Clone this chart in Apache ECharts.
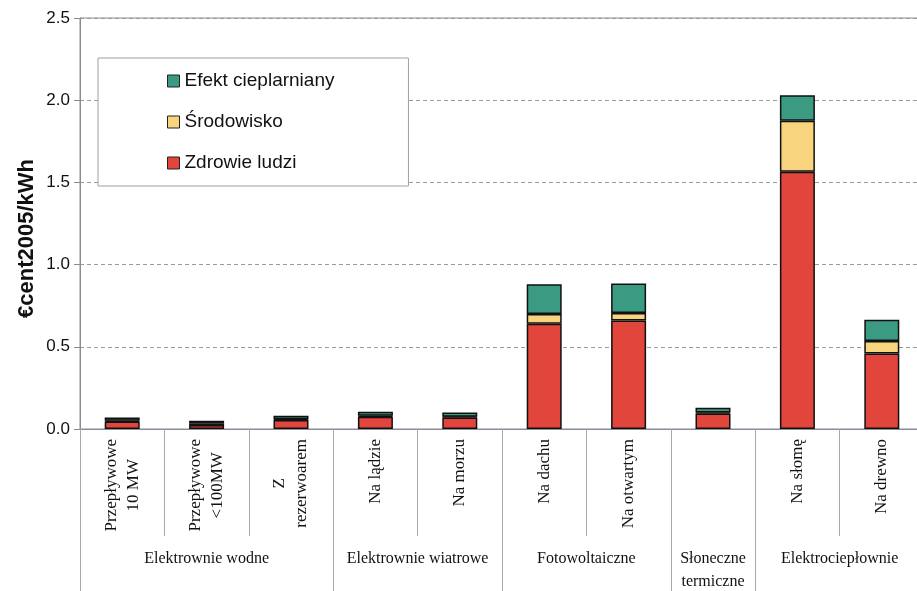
<!DOCTYPE html>
<html>
<head>
<meta charset="utf-8">
<script src="https://cdn.jsdelivr.net/npm/echarts@6/dist/echarts.min.js"></script>
<style>
  html, body { margin: 0; padding: 0; background: #fff; }
  #chart { width: 917px; height: 591px; }
</style>
</head>
<body>
<div id="chart"></div>
<script>
// Technology sub-categories (one bar each)
const categories = [
  'Przepływowe\n10 MW', 'Przepływowe\n<100MW', 'Z\nrezerwoarem',
  'Na lądzie', 'Na morzu',
  'Na dachu', 'Na otwartym',
  '',
  'Na słomę', 'Na drewno'
];

// Technology groups and how many bars each one spans
const groupNames = ['Elektrownie wodne', 'Elektrownie wiatrowe', 'Fotowoltaiczne', 'Słoneczne\ntermiczne', 'Elektrociepłownie'];
const groupSizes = [3, 2, 2, 1, 2];

// External costs, €cent2005/kWh
const humanHealth = [0.045, 0.025, 0.055, 0.075, 0.07, 0.64, 0.66, 0.095, 1.565, 0.46];
const environment = [0.005, 0.01, 0.005, 0.005, 0.005, 0.06, 0.045, 0.005, 0.31, 0.075];
const greenhouse  = [0.02, 0.015, 0.02, 0.025, 0.025, 0.18, 0.18, 0.03, 0.155, 0.13];

const yTicks = [0, 0.5, 1.0, 1.5, 2.0, 2.5];

// group boundaries (bar index where a group starts) and group centres
const groupStarts = [];
const groupCenters = {};
let acc = 0;
groupSizes.forEach((n, i) => {
  groupStarts.push(acc);
  groupCenters[(acc + n / 2).toFixed(1)] = groupNames[i];
  acc += n;
});

const serif = 'Liberation Serif';
const sans = 'Liberation Sans';
const lineGray = '#8a8a98';

const chart = echarts.init(document.getElementById('chart'), null, { renderer: 'canvas' });

const barBorder = { borderColor: '#111', borderWidth: 1.5 };

chart.setOption({
  animation: false,
  backgroundColor: '#fff',
  grid: {
    left: 80, top: 18, width: 844, bottom: 162,
    outerBoundsMode: 'none',
    containLabel: false,
    show: true, borderColor: lineGray, borderWidth: 1
  },
  legend: {
    orient: 'vertical',
    left: 98, top: 58,
    padding: [13, 74, 13, 69],
    itemGap: 21,
    itemWidth: 12, itemHeight: 12,
    icon: 'rect',
    backgroundColor: '#fff',
    borderColor: '#a0a0a0', borderWidth: 1,
    borderRadius: 0,
    data: ['Efekt cieplarniany', 'Środowisko', 'Zdrowie ludzi'],
    itemStyle: { borderColor: '#222', borderWidth: 1 },
    textStyle: { fontFamily: sans, fontSize: 19, color: '#111', lineHeight: 20 }
  },
  xAxis: [
    {
      type: 'category',
      data: categories,
      position: 'bottom',
      axisLine: { show: true, lineStyle: { color: lineGray, width: 1 } },
      axisTick: { show: true, length: 107, lineStyle: { color: '#a8a8a8', width: 1 } },
      axisLabel: {
        interval: 0,
        rotate: 90,
        margin: 10,
        fontFamily: serif,
        fontSize: 17,
        lineHeight: 22,
        color: '#111',
        formatter: function (v) {
          if (v.indexOf('\n') < 0) return v;
          return v.split('\n').map(l => '{c|' + l + '}').join('\n');
        },
        rich: {
          c: { align: 'center', fontFamily: serif, fontSize: 17, lineHeight: 22, color: '#111' }
        }
      }
    },
    {
      type: 'category',
      data: categories,
      position: 'bottom',
      axisLine: { show: false },
      axisLabel: { show: false },
      axisTick: {
        show: true,
        length: 165,
        interval: function (index) { return groupStarts.indexOf(index) >= 0; },
        lineStyle: { color: '#a8a8a8', width: 1 }
      }
    },
    {
      type: 'value',
      min: 0, max: categories.length, interval: 0.5,
      position: 'bottom',
      axisLine: { show: false },
      axisTick: { show: false },
      splitLine: { show: false },
      axisLabel: {
        show: true,
        margin: 118,
        hideOverlap: false,
        showMinLabel: true, showMaxLabel: true,
        fontFamily: serif,
        fontSize: 16,
        lineHeight: 23,
        color: '#111',
        formatter: function (v) { return groupCenters[v.toFixed(1)] || ''; }
      }
    }
  ],
  yAxis: {
    type: 'value',
    min: yTicks[0], max: yTicks[yTicks.length - 1], interval: 0.5,
    name: '€cent2005/kWh',
    nameLocation: 'middle',
    nameGap: 42,
    nameRotate: 90,
    nameMoveOverlap: false,
    nameTextStyle: { fontFamily: sans, fontSize: 22, fontWeight: 'bold', color: '#111', padding: [0, 30, 0, 0] },
    axisLine: { show: true, lineStyle: { color: lineGray, width: 1 } },
    axisTick: { show: true, length: 6, lineStyle: { color: lineGray } },
    axisLabel: {
      margin: 10,
      fontFamily: sans,
      fontSize: 17,
      color: '#111',
      formatter: v => v.toFixed(1)
    },
    splitLine: { show: true, lineStyle: { color: '#9a9a9a', type: [4, 3], width: 1 } }
  },
  series: [
    {
      name: 'Zdrowie ludzi', type: 'bar', stack: 'cost', barWidth: 35,
      data: humanHealth,
      itemStyle: Object.assign({ color: '#e2453b' }, barBorder)
    },
    {
      name: 'Środowisko', type: 'bar', stack: 'cost', barWidth: 35,
      data: environment,
      itemStyle: Object.assign({ color: '#f9d47e' }, barBorder)
    },
    {
      name: 'Efekt cieplarniany', type: 'bar', stack: 'cost', barWidth: 35,
      data: greenhouse,
      itemStyle: Object.assign({ color: '#3b9b82' }, barBorder)
    }
  ]
});
</script>
</body>
</html>
